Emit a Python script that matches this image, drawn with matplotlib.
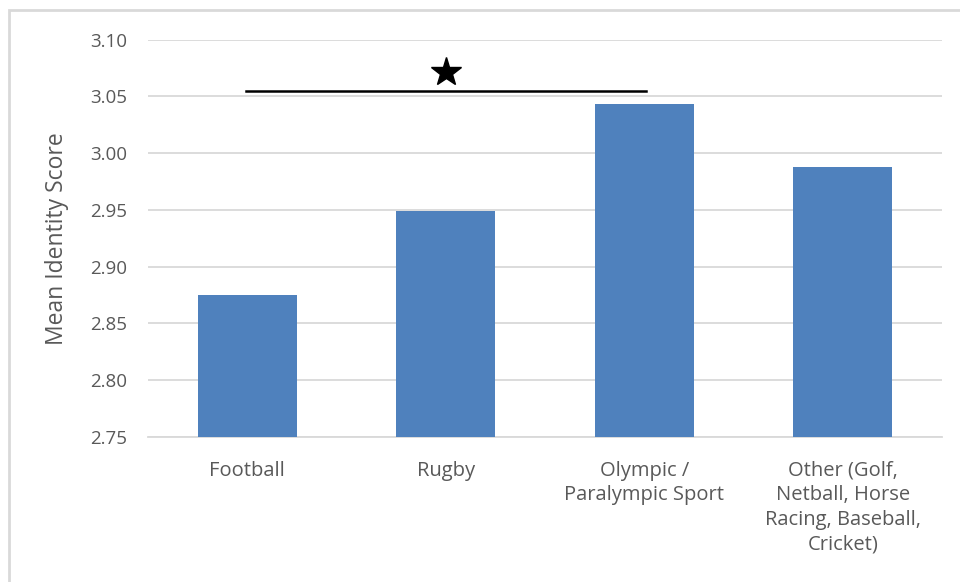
import matplotlib
matplotlib.use('Agg')
import matplotlib.pyplot as plt
from matplotlib.patches import Rectangle

# mean identity score by sport followed
categories = ["Football", "Rugby", "Olympic /\nParalympic Sport",
              "Other (Golf,\nNetball, Horse\nRacing, Baseball,\nCricket)"]
scores = [2.875, 2.949, 3.043, 2.988]
yticks = [2.75, 2.80, 2.85, 2.90, 2.95, 3.00, 3.05, 3.10]

# significant difference: Football vs Olympic / Paralympic
sig_pair = (0, 2)
sig_level = 3.055

plt.rcParams['font.family'] = ['Open Sans', 'DejaVu Sans']
text_color = '#595959'

fig = plt.figure(figsize=(9.6, 5.82), dpi=100)
ax = fig.add_axes([0.1542, 0.2491, 0.8271, 0.6830])

x = range(len(categories))
ax.bar(x, [s - yticks[0] for s in scores], bottom=yticks[0], width=0.5,
       color='#4F81BD', zorder=3)

ax.set_ylim(yticks[0], yticks[-1])
ax.set_xlim(-0.5, len(categories) - 0.5)
ax.set_yticks(yticks)
ax.set_yticklabels(['%.2f' % t for t in yticks])
ax.set_xticks(list(x))
ax.set_xticklabels(categories, linespacing=1.3)

ax.grid(axis='y', color='#d9d9d9', linewidth=1.3, zorder=0)
for side in ['top', 'right', 'left']:
    ax.spines[side].set_visible(False)
ax.spines['bottom'].set_color('#d9d9d9')
ax.spines['bottom'].set_linewidth(1.3)
ax.tick_params(axis='both', length=0, colors=text_color)
ax.tick_params(axis='y', pad=15, labelsize=13.5)
ax.tick_params(axis='x', pad=17, labelsize=14.5)
ax.set_ylabel("Mean Identity Score", fontsize=16.5, color=text_color, labelpad=15)

# significance bar with star
ax.plot([sig_pair[0] - 0.005, sig_pair[1] + 0.01], [sig_level, sig_level],
        color='black', linewidth=1.8, zorder=4, clip_on=False)
ax.plot([(sig_pair[0] + sig_pair[1]) / 2], [sig_level + 0.016], marker='*',
        markersize=22, color='black', linestyle='none', zorder=4, clip_on=False)

# light frame around the chart area
fig.patches.append(Rectangle((9 / 960, -0.1), 1.2, 1 - 10 / 582 + 0.1,
                             transform=fig.transFigure, fill=False,
                             edgecolor='#d9d9d9', linewidth=2))

fig.savefig("out.png", dpi=100)
